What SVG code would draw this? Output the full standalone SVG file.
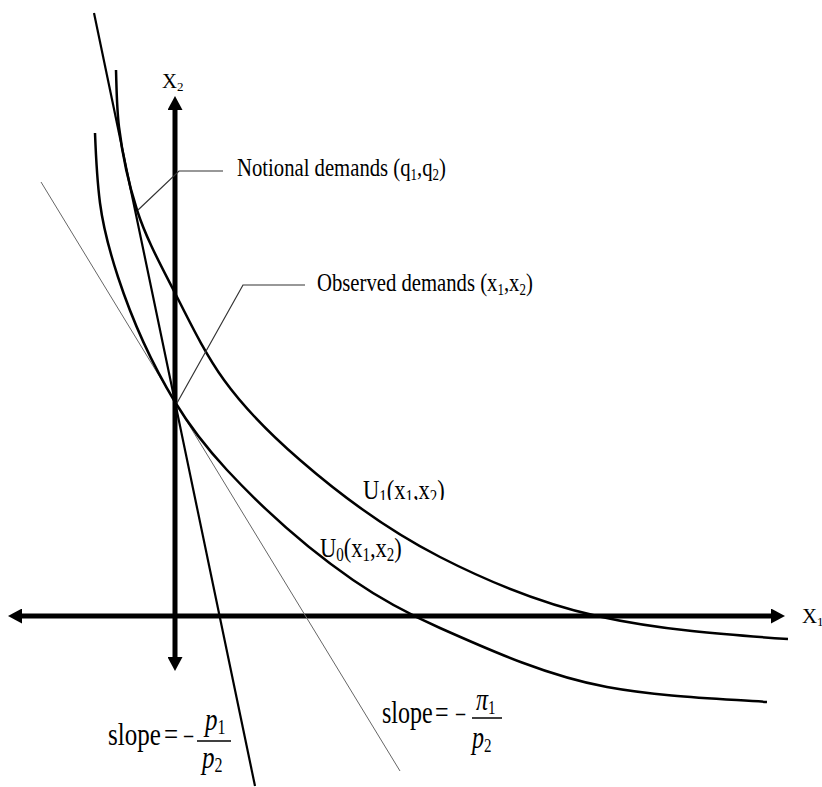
<svg xmlns="http://www.w3.org/2000/svg" width="822" height="787" viewBox="0 0 822 787">
<style>
.t{font-family:"Liberation Serif","Times New Roman",serif;fill:#000;}
.curve{fill:none;stroke:#000;stroke-width:2.5;}
.axis{fill:none;stroke:#000;stroke-width:5;}
.lead{fill:none;stroke:#333;stroke-width:1.2;}
.i{font-style:italic;}
</style>
<defs>
<marker id="ah" viewBox="0 0 14 15" refX="0" refY="7.5" markerWidth="14" markerHeight="15" markerUnits="userSpaceOnUse" orient="auto-start-reverse"><path d="M0,0 L14,7.5 L0,15 z" fill="#000"/></marker>
<clipPath id="clipU1"><rect x="340" y="450" width="140" height="50"/></clipPath>
</defs>
<rect width="822" height="787" fill="#fff"/>

<g id="axes">
<line class="axis" x1="175" y1="110" x2="175" y2="657" marker-start="url(#ah)" marker-end="url(#ah)"/>
<line class="axis" x1="22" y1="616" x2="771" y2="616" marker-start="url(#ah)" marker-end="url(#ah)"/>
<text class="t" x="162" y="88" font-size="20.8">X<tspan font-size="13" dy="3">2</tspan></text>
<text class="t" x="802" y="623" font-size="20.8">X<tspan font-size="13" dy="3">1</tspan></text>
</g>

<g id="budget-lines">
<line x1="94" y1="13" x2="255" y2="786" stroke="#000" stroke-width="2.2"/>
<line x1="41" y1="182" x2="400" y2="771" stroke="#666" stroke-width="1"/>
</g>

<g id="U1">
<path class="curve" d="M116,70 C116.6,89 116.7,108.1 119,127 C122.4,155.1 128.4,183.1 137,210 C146.3,238.9 161.2,265.9 175,293 C190.1,322.7 204.6,353 224,380 C245.5,409.8 272.2,435.9 300,460 C342.9,497.3 389.4,531.1 440,557 C489.8,582.5 542.4,603.9 597,616 C659.6,629.9 724,634.7 788,639"/>
<g clip-path="url(#clipU1)">
<text class="t" transform="translate(363,499) scale(1,1.25)" font-size="22.5">U<tspan font-size="15" dy="3">1</tspan><tspan dy="-3">(x</tspan><tspan font-size="15" dy="3">1</tspan><tspan dy="-3">,x</tspan><tspan font-size="15" dy="3">2</tspan><tspan dy="-3">)</tspan></text>
</g>
</g>

<g id="U0">
<path class="curve" d="M95,133 C95.9,156.4 97,179.8 100,203 C103.3,228.2 110.1,252.9 118,277 C132.3,320.5 151.3,362.8 175,402 C189.8,426.4 207.6,449.1 227,470 C265,510.8 307.1,548.3 353,580 C380.2,598.8 409.7,614.6 440,628 C493.9,652 548.9,676.4 607,687 C659.7,696.6 713.5,698.4 767,702"/>
<text class="t" transform="translate(320,557) scale(1,1.25)" font-size="22.5">U<tspan font-size="15" dy="3">0</tspan><tspan dy="-3">(x</tspan><tspan font-size="15" dy="3">1</tspan><tspan dy="-3">,x</tspan><tspan font-size="15" dy="3">2</tspan><tspan dy="-3">)</tspan></text>
</g>

<g id="connectors">
<polyline class="lead" points="138,210 179,171 223,171"/>
<polyline class="lead" points="177,403 243,285 305,285"/>
</g>

<g id="notional">
<text class="t" transform="translate(237,176) scale(1,1.25)" font-size="20.7">Notional demands (q<tspan font-size="13" dy="3">1</tspan><tspan dy="-3">,q</tspan><tspan font-size="13" dy="3">2</tspan><tspan dy="-3">)</tspan></text>
</g>

<g id="observed">
<text class="t" transform="translate(317,291) scale(1,1.25)" font-size="20.7">Observed demands (x<tspan font-size="13" dy="3">1</tspan><tspan dy="-3">,x</tspan><tspan font-size="13" dy="3">2</tspan><tspan dy="-3">)</tspan></text>
</g>

<g id="slope-p">
<g transform="translate(0,745) scale(1,1.28)">
<text class="t" x="108" y="0" font-size="25">slope</text>
<text class="t" x="164" y="0" font-size="25">=</text>
<text class="t" x="183" y="0" font-size="20">−</text>
</g>
<line x1="197" y1="741" x2="231" y2="741" stroke="#000" stroke-width="1.5"/>
<text class="t i" transform="translate(205,730) scale(1,1.28)" font-size="25">p<tspan font-size="16" font-style="normal" dy="3">1</tspan></text>
<text class="t i" transform="translate(202,768) scale(1,1.28)" font-size="25">p<tspan font-size="16" font-style="normal" dy="3">2</tspan></text>
</g>

<g id="slope-pi">
<g transform="translate(0,723) scale(1,1.28)">
<text class="t" x="382" y="0" font-size="24">slope</text>
<text class="t" x="435" y="0" font-size="24">=</text>
<text class="t" x="455" y="0" font-size="20">−</text>
</g>
<line x1="472" y1="718" x2="502" y2="718" stroke="#000" stroke-width="1.5"/>
<text class="t i" transform="translate(476,710) scale(1,1.28)" font-size="24">π<tspan font-size="15" font-style="normal" dy="3">1</tspan></text>
<text class="t i" transform="translate(472,748) scale(1,1.28)" font-size="24">p<tspan font-size="15" font-style="normal" dy="3">2</tspan></text>
</g>
</svg>
